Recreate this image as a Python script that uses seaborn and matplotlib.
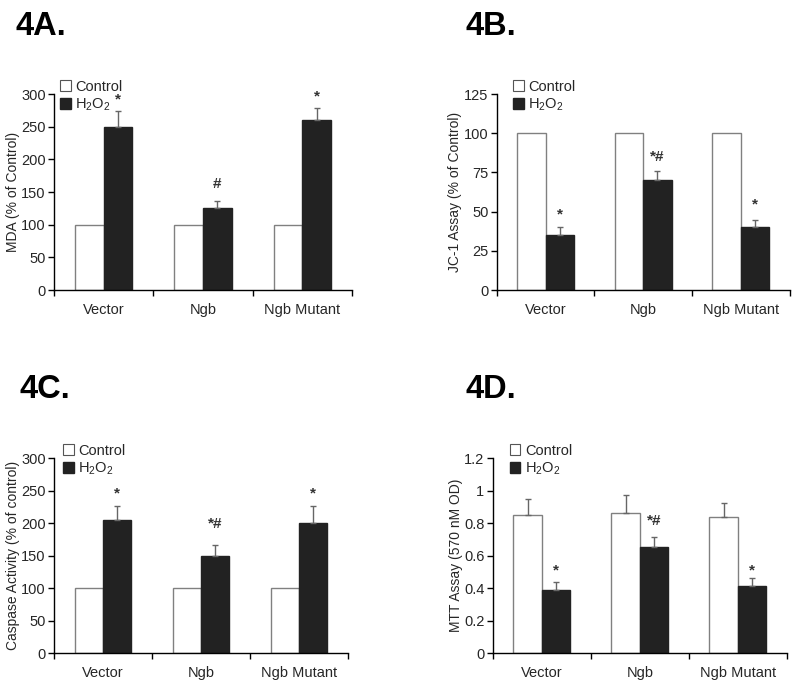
import numpy as np
import pandas as pd
import matplotlib
matplotlib.use("Agg")
import matplotlib.pyplot as plt
from matplotlib.patches import Patch
from matplotlib.container import BarContainer
import seaborn as sns

sns.set_theme(style="white")
plt.rcParams['font.family'] = ['Liberation Sans', 'DejaVu Sans']
plt.rcParams['mathtext.default'] = 'regular'

groups = ["Vector", "Ngb", "Ngb Mutant"]
conditions = ["Control", "H2O2"]

# Panel A: MDA
a_ctrl = [100, 100, 100]
a_h2o2 = [250, 125, 260]
a_ctrl_err = [0, 0, 0]
a_h2o2_err = [24, 11, 19]
a_marks = ["*", "#", "*"]
a_mark_y = [291, 163, 296]

# Panel B: JC-1
b_ctrl = [100, 100, 100]
b_h2o2 = [35, 70, 40]
b_ctrl_err = [0, 0, 0]
b_h2o2_err = [5, 6, 4.4]
b_marks = ["*", "*#", "*"]
b_mark_y = [48.5, 85, 54.5]

# Panel C: Caspase
c_ctrl = [100, 100, 100]
c_h2o2 = [205, 150, 200]
c_ctrl_err = [0, 0, 0]
c_h2o2_err = [21, 16, 26]
c_marks = ["*", "*#", "*"]
c_mark_y = [245, 198, 245]

# Panel D: MTT
d_ctrl = [0.85, 0.86, 0.84]
d_h2o2 = [0.39, 0.65, 0.41]
d_ctrl_err = [0.10, 0.115, 0.086]
d_h2o2_err = [0.05, 0.062, 0.054]
d_marks = ["*", "*#", "*"]
d_mark_y = [0.51, 0.81, 0.51]

fig = plt.figure(figsize=(8, 6.89), dpi=100)

panels = [
    dict(tag="4A.", rect=[0.0675, 0.579, 0.3725, 0.2845], tagpos=(15, 35), legx=0.015, legy=1.08,
         ctrl=a_ctrl, h2o2=a_h2o2, ce=a_ctrl_err, he=a_h2o2_err, marks=a_marks, my=a_mark_y,
         ylabel="MDA (% of Control)", ylim=(0, 300), yticks=[0, 50, 100, 150, 200, 250, 300],
         yticklabels=["0", "50", "100", "150", "200", "250", "300"]),
    dict(tag="4B.", rect=[0.621, 0.579, 0.366, 0.2845], tagpos=(465, 35), legx=0.05, legy=1.08,
         ctrl=b_ctrl, h2o2=b_h2o2, ce=b_ctrl_err, he=b_h2o2_err, marks=b_marks, my=b_mark_y,
         ylabel="JC-1 Assay (% of Control)", ylim=(0, 125), yticks=[0, 25, 50, 75, 100, 125],
         yticklabels=["0", "25", "50", "75", "100", "125"]),
    dict(tag="4C.", rect=[0.0675, 0.0522, 0.3675, 0.283], tagpos=(20, 398), legx=0.025, legy=1.08,
         ctrl=c_ctrl, h2o2=c_h2o2, ce=c_ctrl_err, he=c_h2o2_err, marks=c_marks, my=c_mark_y,
         ylabel="Caspase Activity (% of control)", ylim=(0, 300), yticks=[0, 50, 100, 150, 200, 250, 300],
         yticklabels=["0", "50", "100", "150", "200", "250", "300"]),
    dict(tag="4D.", rect=[0.616, 0.0522, 0.3675, 0.283], tagpos=(465, 398), legx=0.052, legy=1.08,
         ctrl=d_ctrl, h2o2=d_h2o2, ce=d_ctrl_err, he=d_h2o2_err, marks=d_marks, my=d_mark_y,
         ylabel="MTT Assay (570 nM OD)", ylim=(0, 1.2), yticks=[0, 0.2, 0.4, 0.6, 0.8, 1.0, 1.2],
         yticklabels=["0", "0.2", "0.4", "0.6", "0.8", "1", "1.2"]),
]

dark = "#222222"
edge_gray = "#808080"
err_gray = "#666666"

for p in panels:
    ax = fig.add_axes(p["rect"])
    df = pd.DataFrame({
        "group": groups * 2,
        "condition": ["Control"] * 3 + ["H2O2"] * 3,
        "value": list(p["ctrl"]) + list(p["h2o2"]),
    })
    sns.barplot(data=df, x="group", y="value", hue="condition", order=groups,
                hue_order=conditions, width=0.58, errorbar=None, legend=False,
                palette={"Control": "white", "H2O2": dark}, ax=ax)
    bar_conts = [c for c in ax.containers if isinstance(c, BarContainer)]
    errs = [p["ce"], p["he"]]
    for ci, cont in enumerate(bar_conts):
        for bi, bar in enumerate(cont.patches):
            if ci == 0:
                bar.set_facecolor("white")
                bar.set_edgecolor(edge_gray)
            else:
                bar.set_facecolor(dark)
                bar.set_edgecolor(dark)
            bar.set_linewidth(1.0)
            e = errs[ci][bi]
            if e > 0:
                xc = bar.get_x() + bar.get_width() / 2
                h = bar.get_height()
                ax.errorbar([xc], [h], yerr=[[0], [e]], fmt="none", ecolor=err_gray,
                            elinewidth=1.0, capsize=2.5, capthick=1.0, zorder=1)
    # significance marks above H2O2 bars
    for bi, bar in enumerate(bar_conts[1].patches):
        xc = bar.get_x() + bar.get_width() / 2
        ax.text(xc, p["my"][bi], p["marks"][bi], ha="center", va="center",
                fontsize=11, color="#333333", fontweight="bold")

    ax.set_xlim(-0.5, 2.5)
    ax.set_ylim(*p["ylim"])
    ax.set_yticks(p["yticks"])
    ax.set_yticklabels(p["yticklabels"], fontsize=10.5)
    ax.set_xticks([0, 1, 2])
    ax.set_xticklabels(groups, fontsize=10.5)
    ax.set_xticks([-0.5, 0.5, 1.5, 2.5], minor=True)
    ax.tick_params(axis="x", which="major", length=0, pad=9)
    ax.tick_params(axis="x", which="minor", length=4, width=1, direction="out", color="black", bottom=True)
    ax.tick_params(axis="y", which="major", length=4, width=1, direction="out", color="black", left=True, pad=2)
    ax.set_xlabel("")
    ax.set_ylabel(p["ylabel"], fontsize=10, labelpad=1)
    for s in ["top", "right"]:
        ax.spines[s].set_visible(False)
    for s in ["left", "bottom"]:
        ax.spines[s].set_color("black")
        ax.spines[s].set_linewidth(1.0)

    handles = [Patch(facecolor="white", edgecolor="#555555", linewidth=0.8),
               Patch(facecolor=dark, edgecolor=dark)]
    ax.legend(handles, ["Control", "H$_2$O$_2$"], loc="upper left",
              bbox_to_anchor=(p["legx"], p["legy"]), frameon=False, fontsize=10.5,
              handlelength=0.75, handleheight=0.75, handletextpad=0.3,
              labelspacing=0.2, borderpad=0.1, borderaxespad=0.0)

    fig.text(p["tagpos"][0] / 800, 1 - p["tagpos"][1] / 689, p["tag"],
             fontsize=23.5, fontweight="bold", ha="left", va="baseline", color="black")

fig.savefig("out.png", dpi=100)
